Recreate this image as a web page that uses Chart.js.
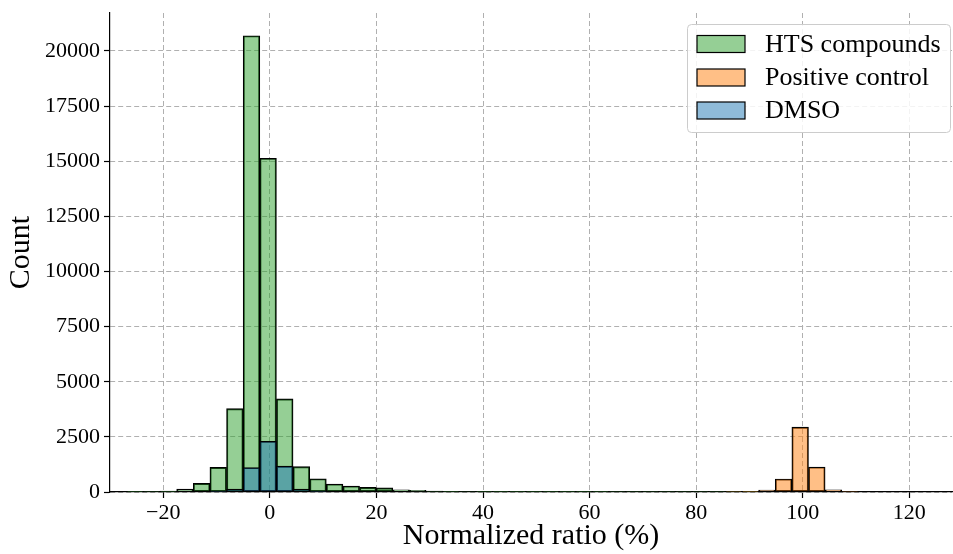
<!DOCTYPE html>
<html>
<head>
<meta charset="utf-8">
<script src="https://cdn.jsdelivr.net/npm/chart.js@4/dist/chart.umd.min.js"></script>
<style>
  html, body { margin: 0; padding: 0; background: #fff; }
</style>
</head>
<body>
<canvas id="histChart" width="953" height="554"></canvas>
<script>
/* ---- data ---- */
const binCenters = [-25.29, -22.17, -19.05, -15.93, -12.81, -9.69, -6.57, -3.45, -0.33, 2.79,
  5.91, 9.03, 12.15, 15.27, 18.39, 21.51, 24.63, 27.75, 30.87, 33.99,
  37.11, 40.23, 43.35, 46.47, 49.59, 52.71, 55.83, 58.95, 62.07, 65.19,
  68.31, 71.43, 74.55, 77.67, 80.79, 83.91, 87.03, 90.15, 93.27, 96.39,
  99.51, 102.63, 105.75, 108.87, 111.99, 115.11, 118.23, 121.35];

const htsCounts = [10, 20, 40, 130, 390, 1115, 3780, 20690, 15130, 4220,
  1150, 600, 360, 270, 210, 185, 100, 75, 45, 30,
  22, 16, 12, 10, 8, 7, 6, 5, 5, 4,
  4, 3, 3, 3, 2, 2, 2, 1, 0, 0,
  0, 0, 0, 0, 0, 0, 0, 0];

const posCounts = [0, 0, 0, 0, 0, 0, 0, 0, 0, 0,
  0, 0, 0, 0, 0, 0, 0, 0, 0, 0,
  0, 0, 0, 0, 0, 0, 0, 0, 0, 0,
  0, 0, 0, 0, 0, 0, 3, 8, 90, 590,
  2940, 1130, 100, 4, 0, 0, 0, 0];

const dmsoCounts = [0, 0, 0, 0, 0, 4, 130, 1110, 2300, 1170,
  130, 4, 0, 0, 0, 0, 0, 0, 0, 0,
  0, 0, 0, 0, 0, 0, 0, 0, 0, 0,
  0, 0, 0, 0, 0, 0, 0, 0, 0, 0,
  0, 0, 0, 0, 0, 0, 0, 0];

const seriesLabels = ["HTS compounds", "Positive control", "DMSO"];
const xTicks = [-20, 0, 20, 40, 60, 80, 100, 120];
const yTicks = [0, 2500, 5000, 7500, 10000, 12500, 15000, 17500, 20000];

/* ---- styling ---- */
const FONT = "'Liberation Serif', 'Times New Roman', serif";
const fills = ["rgba(44,160,44,0.5)", "rgba(255,127,14,0.5)", "rgba(31,119,180,0.5)"];

function toPoints(counts) {
    return binCenters.map((c, i) => ({ x: c, y: counts[i] }));
}

// legend box drawn inside the plot, matplotlib style
const legendBox = {
    id: "legendBox",
    afterDraw(chart) {
        const ctx = chart.ctx;
        const x0 = 687.5, y0 = 24.5, w = 263, h = 108, r = 4;
        ctx.save();
        ctx.beginPath();
        ctx.roundRect(x0, y0, w, h, r);
        ctx.fillStyle = "rgba(255,255,255,0.85)";
        ctx.fill();
        ctx.strokeStyle = "#cccccc";
        ctx.lineWidth = 1;
        ctx.stroke();

        const rowY = [44, 77.5, 110.5];
        ctx.font = "26px " + FONT;
        ctx.textBaseline = "middle";
        ctx.textAlign = "left";
        seriesLabels.forEach((lab, i) => {
            ctx.fillStyle = "#ffffff";
            ctx.fillRect(697, rowY[i] - 8.5, 48, 17);
            ctx.fillStyle = fills[i];
            ctx.fillRect(697, rowY[i] - 8.5, 48, 17);
            ctx.strokeStyle = "#000";
            ctx.lineWidth = 1.2;
            ctx.strokeRect(697, rowY[i] - 8.5, 48, 17);
            ctx.fillStyle = "#000";
            ctx.fillText(lab, 765, rowY[i] + 1);
        });
        ctx.restore();
    }
};

const datasets = [
    { label: seriesLabels[0], data: toPoints(htsCounts), backgroundColor: fills[0], order: 3 },
    { label: seriesLabels[1], data: toPoints(posCounts), backgroundColor: fills[1], order: 2 },
    { label: seriesLabels[2], data: toPoints(dmsoCounts), backgroundColor: fills[2], order: 1 }
].map(d => Object.assign(d, {
    borderColor: "#000",
    borderWidth: 1.2,
    borderSkipped: false,
    grouped: false,
    barPercentage: 1,
    categoryPercentage: 1
}));

new Chart(document.getElementById("histChart"), {
    type: "bar",
    data: { datasets: datasets },
    plugins: [legendBox],
    options: {
        responsive: false,
        animation: false,
        layout: { padding: { top: 13, right: 1, left: 0, bottom: 0 } },
        plugins: {
            legend: { display: false },
            tooltip: { enabled: false }
        },
        scales: {
            x: {
                type: "linear",
                min: -30,
                max: 128,
                offset: false,
                afterBuildTicks: (s) => { s.ticks = xTicks.map(v => ({ value: v })); },
                afterFit: (s) => {
                    s.height = 62;
                    s.paddingLeft = 0;
                    s.paddingRight = 0;
                },
                ticks: {
                    color: "#000",
                    font: { family: FONT, size: 22 },
                    padding: 2,
                    maxRotation: 0,
                    callback: (v) => (v < 0 ? "\u2212" + Math.abs(v) : String(v))
                },
                grid: {
                    offset: false,
                    color: "#b0b0b0",
                    lineWidth: 1,
                    tickColor: "#000",
                    tickLength: 6,
                    tickWidth: 1.2
                },
                border: { display: true, color: "#000", width: 1.2, dash: [5, 3] },
                title: {
                    display: true,
                    text: "Normalized ratio (%)",
                    color: "#000",
                    font: { family: FONT, size: 30 },
                    padding: { top: 0, bottom: 0 }
                }
            },
            y: {
                min: 0,
                max: 21720,
                afterBuildTicks: (s) => { s.ticks = yTicks.map(v => ({ value: v })); },
                afterFit: (s) => {
                    s.width = 110;
                    s.paddingTop = 0;
                    s.paddingBottom = 0;
                },
                ticks: {
                    color: "#000",
                    font: { family: FONT, size: 22 },
                    padding: 4,
                    callback: (v) => String(v)
                },
                grid: {
                    color: "#b0b0b0",
                    lineWidth: 1,
                    tickColor: "#000",
                    tickLength: 6,
                    tickWidth: 1.2
                },
                border: { display: true, color: "#000", width: 1.2, dash: [5, 3] },
                title: {
                    display: true,
                    text: "Count",
                    color: "#000",
                    font: { family: FONT, size: 30 },
                    padding: { top: 3, bottom: 0 }
                }
            }
        }
    }
});
</script>
</body>
</html>
